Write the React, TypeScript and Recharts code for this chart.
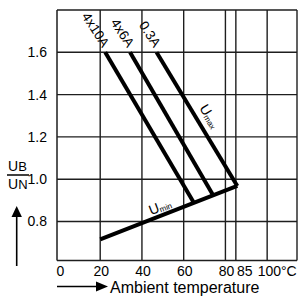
import { LineChart, Line, XAxis, YAxis, CartesianGrid, ReferenceDot } from "recharts";

// ambient temperature (°C) ticks and labels
const tempTicks = [0, 20, 40, 60, 80, 85, 100];
const tempTickLabels = ["0", "20", "40", "60", "80", "85", "100°C"];
// UB/UN ticks
const ratioTicks = [0.8, 1.0, 1.2, 1.4, 1.6];

// derating lines (x = °C, y = UB/UN)
const line4x10A = [
  { x: 22.4, y: 1.6 },
  { x: 64.6, y: 0.893 },
];
const line4x6A = [
  { x: 34.3, y: 1.6 },
  { x: 73.9, y: 0.927 },
];
const line03A = [
  { x: 47.0, y: 1.6 },
  { x: 85.7, y: 0.968 },
];
const lineUmin = [
  { x: 20, y: 0.715 },
  { x: 85.7, y: 0.968 },
];

const FONT = "'Liberation Sans', Arial, sans-serif";
const GRID = "#1e1e1e";
const X_DOMAIN = [-0.7, 114.3];
const Y_DOMAIN = [0.615, 1.8];

function XTick(props: any) {
  const { x, y, payload } = props;
  const v = payload.value;
  const label = tempTickLabels[tempTicks.indexOf(v)];
  if (v === 100) {
    return (
      <text x={x - 9.5} y={y + 7.5} textAnchor="start" fontSize={14} fill="#000" fontFamily={FONT}>
        {label}
      </text>
    );
  }
  const shift = v === 0 ? 2 : v === 85 ? 9 : 1;
  return (
    <text x={x + shift} y={y + 7.5} textAnchor="middle" fontSize={14} fill="#000" fontFamily={FONT}>
      {label}
    </text>
  );
}

function seriesLabel(text: string) {
  return (props: any) => {
    if (props.index !== 0) return null;
    const { x, y } = props;
    return (
      <text
        x={x - 3}
        y={y - 4}
        textAnchor="end"
        fontSize={13.5}
        fill="#000"
        fontFamily={FONT}
        transform={`rotate(57 ${x - 3} ${y - 4})`}
      >
        {text}
      </text>
    );
  };
}

function YTitle() {
  return (
    <g fontFamily={FONT} fill="#000">
      <text x={8} y={171} fontSize={14}>
        U<tspan fontSize={13}>B</tspan>
      </text>
      <line x1={7} x2={29} y1={175} y2={175} stroke="#000" strokeWidth={1.5} />
      <text x={8} y={189} fontSize={14}>
        U<tspan fontSize={13}>N</tspan>
      </text>
      <line x1={16.7} x2={16.7} y1={214} y2={266} stroke="#000" strokeWidth={1.6} />
      <polygon points="16.7,206 11.5,217 21.9,217" fill="#000" />
    </g>
  );
}

function XTitle() {
  return (
    <g fontFamily={FONT} fill="#000">
      <line x1={57} x2={98} y1={286.5} y2={286.5} stroke="#000" strokeWidth={1.6} />
      <polygon points="108,286.5 96,281.5 96,291.5" fill="#000" />
      <text x={110} y={292.5} fontSize={16}>
        Ambient temperature
      </text>
    </g>
  );
}

function SubLabel(props: any) {
  const { cx, cy, main, sub, angle } = props;
  return (
    <g transform={`rotate(${angle} ${cx} ${cy})`} fontFamily={FONT} fill="#000">
      <text x={cx} y={cy} fontSize={14}>
        {main}
        <tspan fontSize={8} dy={1}>
          {sub}
        </tspan>
      </text>
    </g>
  );
}

export default function App() {
  return (
    <div style={{ position: "absolute", left: 0, top: 0, background: "#fff" }}>
      <LineChart width={305} height={297} margin={{ top: 10, right: 8, left: 0, bottom: 0 }}>
        <CartesianGrid
          stroke={GRID}
          strokeWidth={1.4}
          verticalValues={[...tempTicks.filter((t) => t > 0), X_DOMAIN[1]]}
          horizontalValues={[...ratioTicks, Y_DOMAIN[1]]}
        />
        <XAxis
          type="number"
          dataKey="x"
          domain={X_DOMAIN}
          ticks={tempTicks}
          interval={0}
          tick={<XTick />}
          tickLine={false}
          axisLine={{ stroke: GRID, strokeWidth: 1.5 }}
          height={36.4}
          allowDataOverflow
          label={<XTitle />}
        />
        <YAxis
          type="number"
          dataKey="y"
          domain={Y_DOMAIN}
          ticks={ratioTicks}
          interval={0}
          tickFormatter={(v: number) => v.toFixed(1)}
          tick={{ fontSize: 14, fill: "#000", fontFamily: FONT }}
          tickLine={false}
          tickMargin={4}
          axisLine={{ stroke: GRID, strokeWidth: 1.5 }}
          width={57}
          allowDataOverflow
          label={<YTitle />}
        />

        <Line data={line4x10A} dataKey="y" stroke="#000" strokeWidth={4} dot={false} isAnimationActive={false} label={seriesLabel("4x10A")} />
        <Line data={line4x6A} dataKey="y" stroke="#000" strokeWidth={4} dot={false} isAnimationActive={false} label={seriesLabel("4x6A")} />
        <Line data={line03A} dataKey="y" stroke="#000" strokeWidth={4} dot={false} isAnimationActive={false} label={seriesLabel("0.3A")} />
        <Line data={lineUmin} dataKey="y" stroke="#000" strokeWidth={4} dot={false} isAnimationActive={false} />

        <ReferenceDot x={67.3} y={1.337} r={0} shape={(p: any) => <SubLabel {...p} main="U" sub="max" angle={59} />} />
        <ReferenceDot x={44.3} y={0.83} r={0} shape={(p: any) => <SubLabel {...p} main="U" sub="min" angle={-21} />} />
      </LineChart>
    </div>
  );
}
